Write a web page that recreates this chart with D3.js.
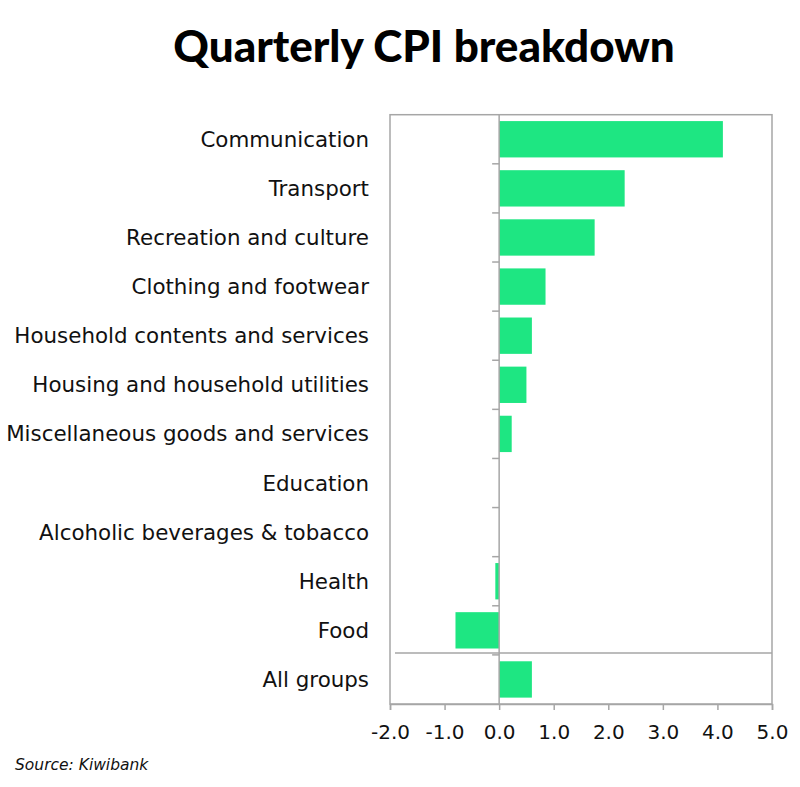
<!DOCTYPE html>
<html lang="en">
<head>
    <meta charset="UTF-8">
    <title>Quarterly CPI breakdown</title>
    <script src="https://d3js.org/d3.v7.min.js"></script>
    <style>
        body { margin: 0; background: #fff; font-family: "DejaVu Sans", sans-serif; }
        .cat-label { font-size: 21.4px; fill: #111; }
        .tick text { font-size: 20px; fill: #111; }
    </style>
</head>
<body>
    <svg id="chart"></svg>

    <script>
        const width = 800, height = 787;

        // data, top to bottom as drawn
        const categories = [
            "Communication",
            "Transport",
            "Recreation and culture",
            "Clothing and footwear",
            "Household contents and services",
            "Housing and household utilities",
            "Miscellaneous goods and services",
            "Education",
            "Alcoholic beverages & tobacco",
            "Health",
            "Food",
            "All groups"
        ];
        const changes = [4.1, 2.3, 1.75, 0.85, 0.6, 0.5, 0.23, 0, 0, -0.07, -0.8, 0.6];
        const xTicks = [-2, -1, 0, 1, 2, 3, 4, 5];

        const plot = { left: 390, right: 772, top: 114.7, bottom: 704 };
        const barColor = "#1ee682";
        const gridGray = "#a6a6a6";

        const svg = d3.select("#chart")
            .attr("width", width)
            .attr("height", height);

        const x = d3.scaleLinear().domain([-2, 5]).range([plot.left, plot.right]);
        const y = d3.scaleBand()
            .domain(categories)
            .range([plot.top, plot.bottom])
            .paddingInner(0.26)
            .paddingOuter(0.13);

        // title
        svg.append("text")
            .attr("x", 424)
            .attr("y", 62)
            .attr("text-anchor", "middle")
            .attr("font-family", "Lato, sans-serif")
            .attr("font-size", 44)
            .attr("font-weight", 900)
            .attr("fill", "#000")
            .text("Quarterly CPI breakdown");

        // plot frame
        svg.append("rect")
            .attr("x", plot.left)
            .attr("y", plot.top)
            .attr("width", plot.right - plot.left)
            .attr("height", plot.bottom - plot.top)
            .attr("fill", "none")
            .attr("stroke", gridGray)
            .attr("stroke-width", 1.5);

        // bars
        const rows = categories.map((c, i) => ({ cat: c, v: changes[i] }));
        svg.append("g").selectAll("rect")
            .data(rows.filter(d => d.v !== 0))
            .join("rect")
            .attr("x", d => x(Math.min(0, d.v)))
            .attr("y", d => y(d.cat))
            .attr("width", d => Math.abs(x(d.v) - x(0)))
            .attr("height", y.bandwidth())
            .attr("fill", barColor);

        // zero line with category ticks on its left side
        const step = y.step();
        const boundaries = d3.range(1, categories.length).map(i => plot.top + i * step);
        svg.append("line")
            .attr("x1", x(0)).attr("x2", x(0))
            .attr("y1", plot.top).attr("y2", plot.bottom)
            .attr("stroke", gridGray)
            .attr("stroke-width", 1.5);
        svg.append("g").selectAll("line")
            .data(boundaries)
            .join("line")
            .attr("x1", x(0) - 7).attr("x2", x(0))
            .attr("y1", d => d).attr("y2", d => d)
            .attr("stroke", gridGray)
            .attr("stroke-width", 1.5);

        // separator above "All groups"
        const sepY = plot.top + (categories.length - 1) * step - 2;
        svg.append("line")
            .attr("x1", plot.left + 5).attr("x2", plot.right)
            .attr("y1", sepY).attr("y2", sepY)
            .attr("stroke", gridGray)
            .attr("stroke-width", 1.5);

        // category labels
        svg.append("g").selectAll("text")
            .data(categories)
            .join("text")
            .attr("class", "cat-label")
            .attr("x", 369)
            .attr("y", d => y(d) + y.bandwidth() / 2)
            .attr("dy", "0.35em")
            .attr("text-anchor", "end")
            .text(d => d);

        // x axis (plain hyphen for negatives)
        const fmt = d3.format(".1f");
        const xAxis = svg.append("g")
            .attr("transform", `translate(0,${plot.bottom})`)
            .call(d3.axisBottom(x)
                .tickValues(xTicks)
                .tickFormat(d => fmt(d).replace("\u2212", "-"))
                .tickSize(6)
                .tickPadding(15));
        xAxis.select(".domain").attr("stroke", gridGray).attr("stroke-width", 1.5);
        xAxis.selectAll(".tick line").attr("stroke", gridGray).attr("stroke-width", 1.5);
        xAxis.selectAll(".tick text").attr("font-family", "DejaVu Sans").attr("fill", "#111");

        // source
        svg.append("text")
            .attr("x", 15)
            .attr("y", 770)
            .attr("font-size", 15.5)
            .attr("font-style", "italic")
            .attr("fill", "#111")
            .text("Source: Kiwibank");
    </script>
</body>
</html>
